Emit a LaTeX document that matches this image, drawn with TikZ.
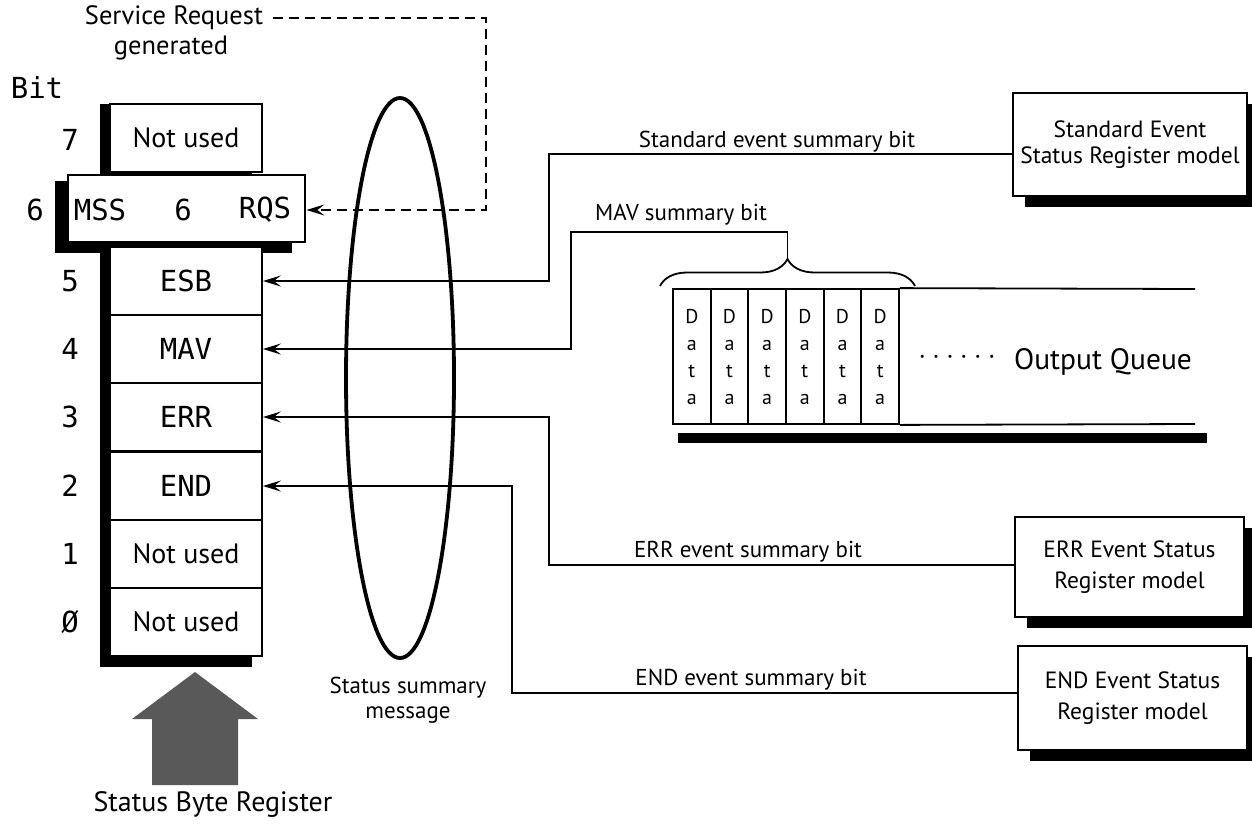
\documentclass[tikz,border=0pt]{standalone}
\usepackage{fontspec}
\setmainfont{PT Sans}
\newfontfamily\monof{DejaVu Sans Mono}
\usetikzlibrary{arrows.meta,shapes.geometric,decorations.pathreplacing,shadows}
\begin{document}
\begin{tikzpicture}[x=1pt,y=-1pt,
  thinline/.style={line width=1.8pt},
  arr/.style={line width=1.8pt,-{Stealth[length=18pt,width=11pt,inset=7pt]}},
  dsh/.style={line width=2.2pt,dash pattern=on 10pt off 6pt,-{Stealth[length=18pt,width=11pt,inset=7pt]}},
  cell/.style={draw,line width=1.8pt,fill=white,minimum width=152pt,minimum height=68pt,inner sep=0pt},
  monot/.style={font=\monof\fontsize{29}{32}\selectfont,inner sep=0pt},
  nut/.style={font=\fontsize{28}{30}\selectfont},
  lab/.style={font=\fontsize{23}{26}\selectfont,inner sep=0pt},
  rbox/.style={draw,line width=2.2pt,fill=white,align=center,inner sep=0pt,
    font=\fontsize{23.5}{31}\selectfont,
    drop shadow={shadow xshift=12pt,shadow yshift=-11pt,fill=black,opacity=1}},
  dcell/.style={draw,line width=1.8pt,minimum width=37.7pt,minimum height=135pt,inner sep=0pt,align=center,font=\fontsize{20}{27}\selectfont}
]
\clip (0,0) rectangle (1252,823);
\fill[white] (0,0) rectangle (1252,823);

% --- register shadows
\fill (100,104) rectangle (252,667);
\fill (55,181) rectangle (292,253);

% --- register cells
\node[cell,nut] (r7) at (186,138) {Not used};
\node[cell,monot] (r5) at (186,281) {ESB};
\node[cell,monot] (r4) at (186,349) {MAV};
\node[cell,monot] (r3) at (186,417) {ERR};
\node[cell,monot] (r2) at (186,486) {END};
\node[cell,nut] (r1) at (186,554) {Not used};
\node[cell,nut] (r0) at (186,622) {Not used};
\node[draw,line width=2.8pt,fill=white,minimum width=237pt,minimum height=67pt] (r6) at (186.5,208.5) {};
\node[monot] (mss) at (100,210) {MSS};
\node[monot] (six) at (183,210) {6};
\node[monot] (rqs) at (265,210) {RQS};

% --- bit numbers
\node[monot] (bit) at (37,87) {Bit};
\node[monot] (b7) at (70,140) {7};
\node[monot] (b6) at (35,210) {6};
\node[monot] (b5) at (70,281) {5};
\node[monot] (b4) at (70,349) {4};
\node[monot] (b3) at (70,417) {3};
\node[monot] (b2) at (70,486) {2};
\node[monot] (b1) at (70,554) {1};
\node[monot] (b0) at (70,622) {Ø};

% --- big arrow and caption
\fill[black!65] (195,672) -- (258,719) -- (238,719) -- (238,785) -- (152,785) -- (152,719) -- (132,719) -- cycle;
\node[font=\fontsize{28}{32}\selectfont,inner sep=0pt] (sbr) at (213,804) {Status Byte Register};

% --- service request
\node[font=\fontsize{26.5}{30}\selectfont,inner sep=0pt] (sr1) at (174,18) {Service Request};
\node[font=\fontsize{26.5}{30}\selectfont,inner sep=0pt] (sr2) at (171,48) {generated};
\coordinate (dA) at (486,18);
\coordinate (dB) at (486,210);
\draw[dsh,shorten <=10pt] (sr1.east |- dA) -- (dA) -- (dB) -- (r6.east |- dB);

% --- ellipse
\node[ellipse,draw,line width=3.8pt,minimum width=108pt,minimum height=560pt,inner sep=0pt] (ell) at (400,378) {};
\node[lab,align=center,font=\fontsize{23}{25}\selectfont] (ssm) at (408,700) {Status summary\\message};

% --- right boxes
\node[rbox,minimum width=234pt,minimum height=103pt,font=\fontsize{23.5}{26}\selectfont] (std) at (1130,144.5) {Standard Event\\Status Register model};
\node[rbox,minimum width=229pt,minimum height=100pt] (err) at (1129.5,567) {ERR Event Status\\Register model};
\node[rbox,minimum width=229pt,minimum height=104pt] (end) at (1132.5,698) {END Event Status\\Register model};

% --- connectors
\coordinate (s1) at (549,154);
\draw[arr] (std.west |- s1) -- (s1) |- (r5.east);
\coordinate (e1) at (549,565);
\draw[arr] (err.west |- e1) -- (e1) |- (r3.east);
\coordinate (d1) at (512,693);
\draw[arr] (end.west |- d1) -- (d1) |- (r2.east);

\node[lab] (lstd) at (777,142) {Standard event summary bit};
\node[lab] (lmav) at (681,215) {MAV summary bit};
\node[lab] (lerr) at (748,552) {ERR event summary bit};
\node[lab] (lend) at (751,680) {END event summary bit};

% --- output queue
\foreach \i in {1,...,6}
  \node[dcell] (q\i) at ({673+37.67*(\i-0.5)},356.5) {D\\a\\t\\a};
\coordinate (qt) at (1195,289);
\coordinate (qb) at (1195,424);
\draw[thinline] (q6.north east) -- (qt);
\draw[thinline] (q6.south east) -- (qb);
\fill (678,433) rectangle (1207,443);
\node[font=\fontsize{26}{30}\selectfont,inner sep=0pt] (dots) at (957,360) {· · · · · ·};
\node[font=\fontsize{29.5}{32}\selectfont,inner sep=0pt] (oq) at (1103,362) {Output Queue};

% --- brace and MAV connector
\coordinate (bl) at (660,286);
\coordinate (br) at (915,286);
\draw[thinline,decorate,decoration={brace,amplitude=27pt}] (bl) -- (br);
\coordinate (bt) at (787.5,259);
\coordinate (m1) at (787.5,232);
\coordinate (m2) at (571,232);
\draw[arr] (bt) -- (m1) -- (m2) |- (r4.east);
\end{tikzpicture}
\end{document}
